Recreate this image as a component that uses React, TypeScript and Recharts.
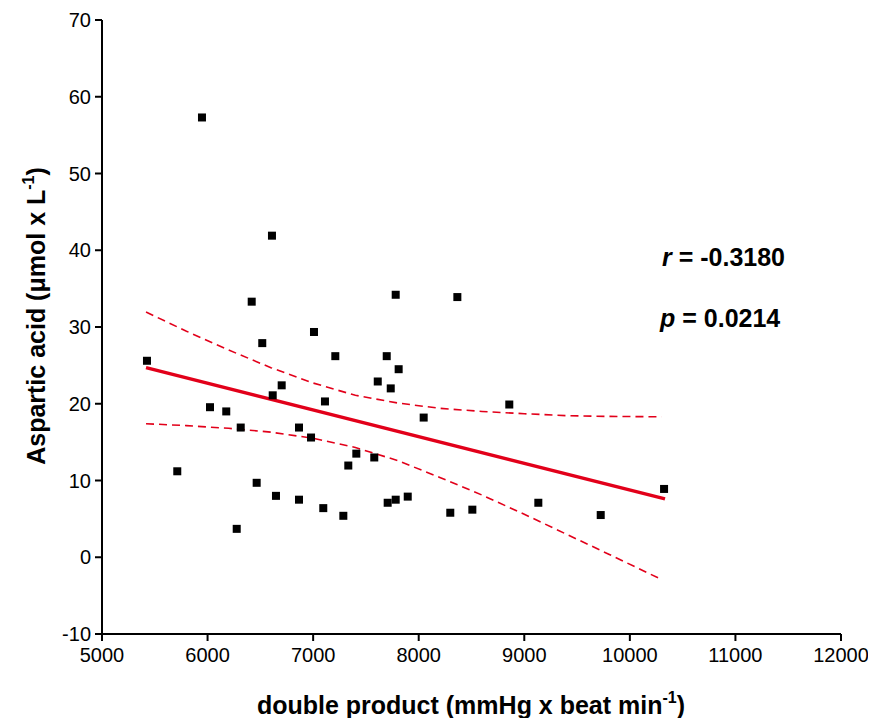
import React from "react";
import { ComposedChart, XAxis, YAxis, Scatter, Line, Label } from "recharts";

const doubleProduct = [5426, 5713, 5947, 6023, 6177, 6276, 6314, 6418, 6465, 6518, 6610, 6617, 6648, 6702, 6866, 6866, 6980, 7008, 7096, 7112, 7210, 7286, 7333, 7409, 7579, 7612, 7697, 7706, 7735, 7782, 7782, 7810, 7896, 8047, 8299, 8366, 8508, 8858, 9133, 9724, 10324];
const asparticAcid = [25.6, 11.2, 57.3, 19.55, 19.0, 3.7, 16.9, 33.3, 9.7, 27.9, 41.9, 21.1, 8.0, 22.4, 7.5, 16.9, 15.6, 29.35, 6.4, 20.3, 26.2, 5.4, 11.95, 13.5, 13.0, 22.9, 26.2, 7.1, 22.0, 34.2, 7.5, 24.5, 7.9, 18.2, 5.8, 33.9, 6.2, 19.9, 7.1, 5.5, 8.9];

const fitX = [5417, 10333];
const fitY = [24.7, 7.6];

const bandX = [5417, 5800, 6200, 6600, 7000, 7400, 7800, 8200, 8600, 9000, 9400, 9800, 10300];
const bandUpper = [31.95, 29.45, 27.0, 24.7, 22.7, 21.1, 20.1, 19.4, 19.0, 18.7, 18.45, 18.35, 18.3];
const bandLower = [17.4, 17.15, 16.8, 16.3, 15.5, 14.3, 12.6, 10.4, 8.1, 5.6, 3.0, 0.4, -2.9];

const xTicks = [5000, 6000, 7000, 8000, 9000, 10000, 11000, 12000];
const yTicks = [-10, 0, 10, 20, 30, 40, 50, 60, 70];

const statR = "-0.3180";
const statP = "0.0214";

const points = doubleProduct.map((x, i) => ({ x, y: asparticAcid[i] }));
const fitData = fitX.map((x, i) => ({ x, fit: fitY[i] }));
const upperData = bandX.map((x, i) => ({ x, up: bandUpper[i] }));
const lowerData = bandX.map((x, i) => ({ x, lo: bandLower[i] }));

const FONT = "'Liberation Sans', Arial, sans-serif";
const RED = "#e2001a";

const SquareDot = (props: any) => {
  const { cx, cy } = props;
  if (cx == null || cy == null) return null;
  return <rect x={cx - 4} y={cy - 4} width={8} height={8} fill="#000" />;
};

const Annotations = () => (
  <g fontFamily={FONT} fill="#000">
    <text
      x={463}
      y={706}
      textAnchor="middle"
      fontSize={25}
      fontWeight="bold"
    >
      double product (mmHg x beat min
      <tspan dy={-11} fontSize={16}>-1</tspan>
      <tspan dy={11}>)</tspan>
    </text>
    <text
      transform="translate(37, 308) rotate(-90)"
      textAnchor="middle"
      fontSize={25}
      fontWeight="bold"
    >
      Aspartic acid (μmol x L
      <tspan dy={-11} fontSize={16}>-1</tspan>
      <tspan dy={11}>)</tspan>
    </text>
    <text x={654} y={258} fontSize={25} fontWeight="bold">
      <tspan fontStyle="italic">r</tspan>
      <tspan> = {statR}</tspan>
    </text>
    <text x={652} y={319} fontSize={25} fontWeight="bold">
      <tspan fontStyle="italic">p</tspan>
      <tspan> = {statP}</tspan>
    </text>
  </g>
);

export default function App() {
  return (
    <ComposedChart
      width={860}
      height={710}
      margin={{ top: 12, right: 27, bottom: 54, left: 34 }}
      style={{ fontFamily: FONT }}
    >
      <XAxis
        type="number"
        dataKey="x"
        domain={[5000, 12000]}
        ticks={xTicks}
        interval={0}
        allowDataOverflow
        height={30}
        stroke="#000"
        strokeWidth={2}
        tickSize={7}
        tickMargin={7}
        tick={{ fill: "#000", fontSize: 20, fontFamily: FONT }}
      >
        <Label content={() => <Annotations />} />
      </XAxis>
      <YAxis
        type="number"
        dataKey="y"
        domain={[-10, 70]}
        ticks={yTicks}
        interval={0}
        allowDataOverflow
        width={60}
        stroke="#000"
        strokeWidth={2}
        tickSize={7}
        tickMargin={4}
        tick={{ fill: "#000", fontSize: 20, fontFamily: FONT }}
      />
      <Line
        data={upperData}
        dataKey="up"
        type="linear"
        stroke={RED}
        strokeWidth={1.6}
        strokeDasharray="8 5"
        dot={false}
        activeDot={false}
        isAnimationActive={false}
      />
      <Line
        data={lowerData}
        dataKey="lo"
        type="linear"
        stroke={RED}
        strokeWidth={1.6}
        strokeDasharray="8 5"
        dot={false}
        activeDot={false}
        isAnimationActive={false}
      />
      <Line
        data={fitData}
        dataKey="fit"
        type="linear"
        stroke={RED}
        strokeWidth={3.5}
        dot={false}
        activeDot={false}
        isAnimationActive={false}
      />
      <Scatter
        data={points}
        dataKey="y"
        shape={SquareDot}
        isAnimationActive={false}
      />
    </ComposedChart>
  );
}
